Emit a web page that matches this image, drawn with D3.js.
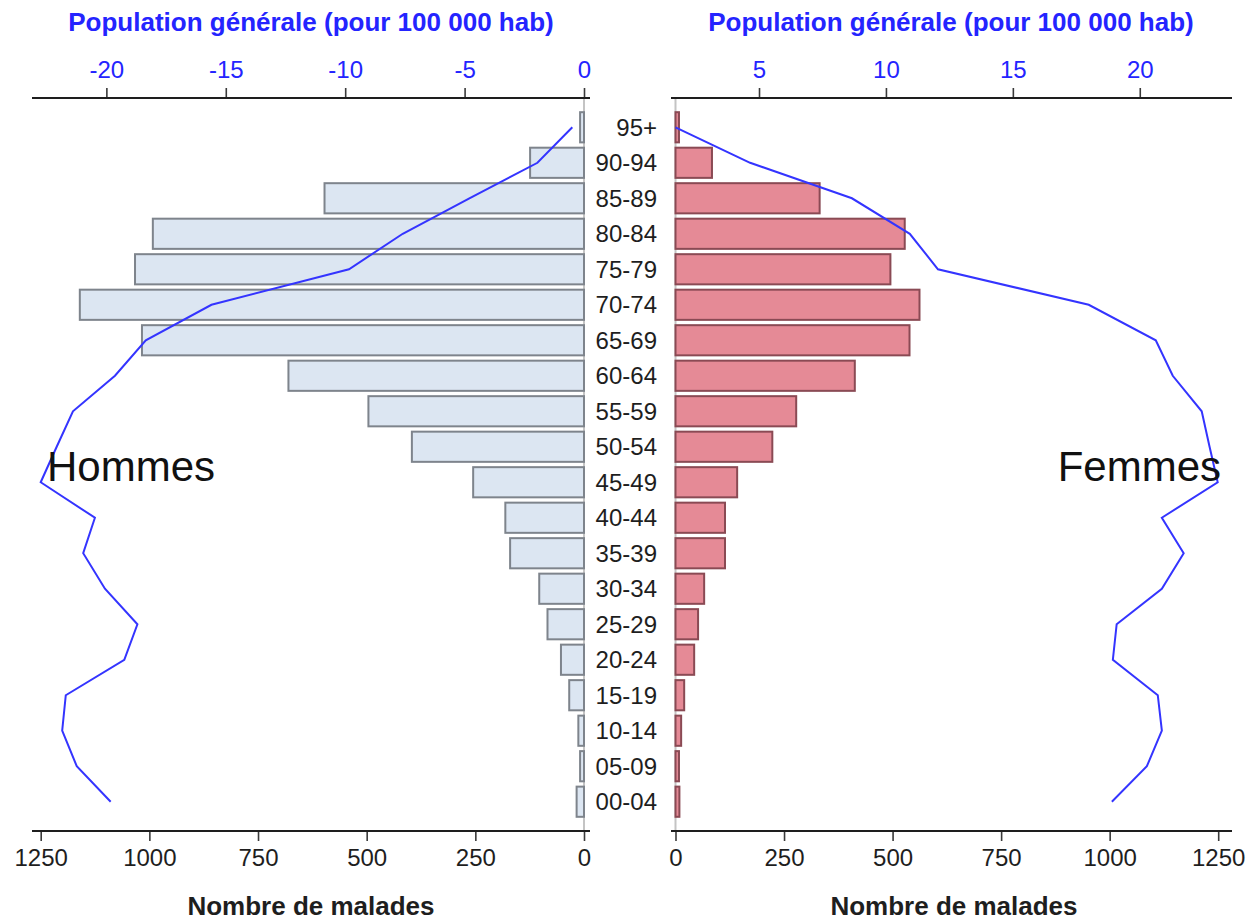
<!DOCTYPE html>
<html>
<head>
<meta charset="utf-8">
<script src="https://cdn.jsdelivr.net/npm/d3@7"></script>
<style>
  body { margin: 0; background: #fff; }
  svg { display: block; font-family: "Liberation Sans", Arial, sans-serif; }
</style>
</head>
<body>
<svg id="chart" width="1250" height="922"></svg>
<script>
// age groups, bottom to top
var ages = ["00-04","05-09","10-14","15-19","20-24","25-29","30-34","35-39","40-44","45-49",
            "50-54","55-59","60-64","65-69","70-74","75-79","80-84","85-89","90-94","95+"];

// number of patients (bars)
var menCases   = [17, 9, 13, 34, 53, 84, 103, 170, 181, 255, 396, 496, 680, 1017, 1160, 1033, 992, 597, 124, 9];
var womenCases = [9, 8, 13, 20, 43, 52, 66, 114, 114, 142, 223, 278, 413, 539, 562, 495, 528, 332, 84, 8];

// general population, per 100 000 (lines)
var menRate   = [19.82, 21.24, 21.85, 21.7, 19.25, 18.7, 20.06, 20.97, 20.48, 22.75,
                 22.08, 21.4, 19.64, 18.35, 15.6, 9.84, 7.59, 4.8, 1.95, 0.49];
var womenRate = [18.9, 20.28, 20.87, 20.71, 18.94, 19.09, 20.87, 21.73, 20.87, 23.07,
                 22.75, 22.44, 21.3, 20.63, 17.99, 12.05, 10.94, 8.66, 4.65, 1.71];

var casesTicks = [0, 250, 500, 750, 1000, 1250];
var menRateTicks = [-20, -15, -10, -5, 0];
var womenRateTicks = [5, 10, 15, 20];

var svg = d3.select("#chart");

var yTop = 98, yBottom = 831;

var y = d3.scaleBand()
	.domain(ages.slice().reverse())
	.range([yTop, yBottom])
	.paddingInner(0.15)
	.paddingOuter(0.4);

var xMen = d3.scaleLinear().domain([0, 1250]).range([584, 40.7]);
var xWomen = d3.scaleLinear().domain([0, 1250]).range([675.5, 1218.2]);

var popMen = d3.scaleLinear().domain([-22.75, 0]).range([40.7, 584]);
var popWomen = d3.scaleLinear().domain([1.71, 23.09]).range([675.5, 1218.2]);

var blue = "#2424ff";
var dark = "#1e1e1e";

// light zero lines
svg.selectAll("line.zero")
	.data([xMen(0), xWomen(0)])
	.enter().append("line")
	.attr("x1", function(d) { return d; })
	.attr("x2", function(d) { return d; })
	.attr("y1", yTop)
	.attr("y2", yBottom)
	.attr("stroke", "#c4c4c4")
	.attr("stroke-width", 2);

// bars
var menRows = ages.map(function(a, i) { return { age: a, v: menCases[i], r: menRate[i] }; });
var womenRows = ages.map(function(a, i) { return { age: a, v: womenCases[i], r: womenRate[i] }; });

svg.append("g").selectAll("rect")
	.data(menRows)
	.enter().append("rect")
	.attr("x", function(d) { return xMen(d.v); })
	.attr("y", function(d) { return y(d.age); })
	.attr("width", function(d) { return xMen(0) - xMen(d.v); })
	.attr("height", y.bandwidth())
	.attr("fill", "#dce6f2")
	.attr("stroke", "#7e848c")
	.attr("stroke-width", 2);

svg.append("g").selectAll("rect")
	.data(womenRows)
	.enter().append("rect")
	.attr("x", xWomen(0))
	.attr("y", function(d) { return y(d.age); })
	.attr("width", function(d) { return xWomen(d.v) - xWomen(0); })
	.attr("height", y.bandwidth())
	.attr("fill", "#e58a96")
	.attr("stroke", "#8a4a54")
	.attr("stroke-width", 2);

// population lines
var lineMen = d3.line()
	.x(function(d) { return popMen(-d.r); })
	.y(function(d) { return y(d.age) + y.bandwidth() / 2; });

var lineWomen = d3.line()
	.x(function(d) { return popWomen(d.r); })
	.y(function(d) { return y(d.age) + y.bandwidth() / 2; });

svg.append("path")
	.attr("d", lineMen(menRows))
	.attr("fill", "none")
	.attr("stroke", "#3434ff")
	.attr("stroke-width", 2);

svg.append("path")
	.attr("d", lineWomen(womenRows))
	.attr("fill", "none")
	.attr("stroke", "#3434ff")
	.attr("stroke-width", 2);

// age labels
svg.append("g").selectAll("text")
	.data(ages)
	.enter().append("text")
	.attr("x", 657)
	.attr("y", function(d) { return y(d) + y.bandwidth() / 2; })
	.attr("dy", "0.36em")
	.attr("text-anchor", "end")
	.attr("font-size", 24)
	.attr("fill", dark)
	.text(function(d) { return d; });

// axes
function styleAxis(g, color) {
	g.select(".domain").remove();
	g.selectAll(".tick line").attr("stroke", "#3a3a3a").attr("stroke-width", 1.6);
	g.selectAll(".tick text")
		.attr("font-size", 24)
		.attr("font-family", "'Liberation Sans', Arial, sans-serif")
		.attr("fill", color);
}

function axisLine(x1, x2, yy) {
	svg.append("line")
		.attr("x1", x1).attr("x2", x2)
		.attr("y1", yy).attr("y2", yy)
		.attr("stroke", dark)
		.attr("stroke-width", 2);
}

var gMenBottom = svg.append("g")
	.attr("transform", "translate(0," + yBottom + ")")
	.call(d3.axisBottom(xMen).tickValues(casesTicks).tickSize(10).tickPadding(8).tickFormat(d3.format("d")));
styleAxis(gMenBottom, dark);

var gWomenBottom = svg.append("g")
	.attr("transform", "translate(0," + yBottom + ")")
	.call(d3.axisBottom(xWomen).tickValues(casesTicks).tickSize(10).tickPadding(8).tickFormat(d3.format("d")));
styleAxis(gWomenBottom, dark);

var gMenTop = svg.append("g")
	.attr("transform", "translate(0," + yTop + ")")
	.call(d3.axisTop(popMen).tickValues(menRateTicks).tickSize(10).tickPadding(10).tickFormat(d3.format("d")));
styleAxis(gMenTop, blue);
gMenTop.selectAll(".tick text").text(function(d) { return d < 0 ? "-" + (-d) : d; });

var gWomenTop = svg.append("g")
	.attr("transform", "translate(0," + yTop + ")")
	.call(d3.axisTop(popWomen).tickValues(womenRateTicks).tickSize(10).tickPadding(10).tickFormat(d3.format("d")));
styleAxis(gWomenTop, blue);

axisLine(32, 590, yBottom);
axisLine(671, 1232, yBottom);
axisLine(32, 590, yTop);
axisLine(671, 1232, yTop);

// titles
var titles = [
	{ x: 311, y: 31, t: "Population générale (pour 100 000 hab)", c: blue },
	{ x: 951, y: 31, t: "Population générale (pour 100 000 hab)", c: blue },
	{ x: 311, y: 915, t: "Nombre de malades", c: dark },
	{ x: 954, y: 915, t: "Nombre de malades", c: dark }
];
svg.append("g").selectAll("text")
	.data(titles)
	.enter().append("text")
	.attr("x", function(d) { return d.x; })
	.attr("y", function(d) { return d.y; })
	.attr("text-anchor", "middle")
	.attr("font-size", 26)
	.attr("font-weight", "bold")
	.attr("fill", function(d) { return d.c; })
	.text(function(d) { return d.t; });

svg.append("text")
	.attr("x", 47).attr("y", 481)
	.attr("font-size", 42)
	.attr("fill", "#111")
	.text("Hommes");

svg.append("text")
	.attr("x", 1221).attr("y", 481)
	.attr("text-anchor", "end")
	.attr("font-size", 42)
	.attr("fill", "#111")
	.text("Femmes");
</script>
</body>
</html>
